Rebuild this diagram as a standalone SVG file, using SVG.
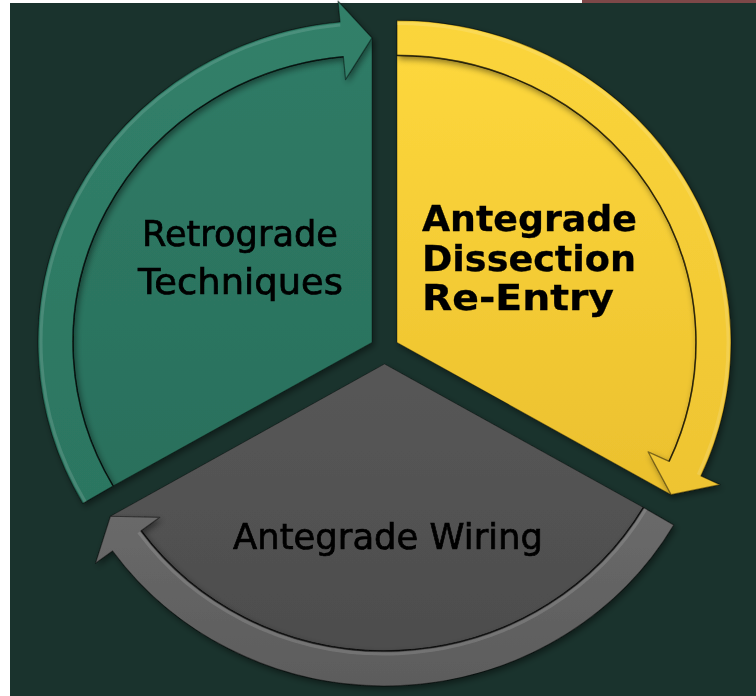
<svg xmlns="http://www.w3.org/2000/svg" width="756" height="696" viewBox="0 0 756 696">
  <style>
    .lbl { font-family: "DejaVu Sans", "Liberation Sans", sans-serif; font-size: 36px; fill: #000; stroke: #000; stroke-width: 0.7; }
    .bold { font-weight: bold; stroke-width: 0.3; }
    .pie { stroke: rgba(0,0,0,0.35); stroke-width: 1; }
    .band { stroke: rgba(0,0,0,0.45); stroke-width: 1.2; stroke-linejoin: round; }
    .inner { fill: none; stroke: rgba(0,0,0,0.55); stroke-width: 1.6; }
    .hl { fill: none; stroke: rgba(255,255,255,0.13); stroke-width: 3; }
  </style>
  <defs>
    <filter id="sh" x="-10%" y="-10%" width="120%" height="120%">
      <feDropShadow dx="2" dy="3" stdDeviation="3" flood-color="#000" flood-opacity="0.45"/>
    </filter>
    <linearGradient id="gGreen" x1="0" y1="0" x2="0" y2="1">
      <stop offset="0" stop-color="#2f7b66"/>
      <stop offset="1" stop-color="#2a705c"/>
    </linearGradient>
    <linearGradient id="gGreenBand" x1="0" y1="0" x2="0" y2="1">
      <stop offset="0" stop-color="#318069"/>
      <stop offset="1" stop-color="#2c7661"/>
    </linearGradient>
    <linearGradient id="gYellow" x1="0" y1="0" x2="0" y2="1">
      <stop offset="0" stop-color="#fdd73c"/>
      <stop offset="1" stop-color="#ebc02e"/>
    </linearGradient>
    <linearGradient id="gYellowBand" x1="0" y1="0" x2="0" y2="1">
      <stop offset="0" stop-color="#fbd53b"/>
      <stop offset="1" stop-color="#eec432"/>
    </linearGradient>
    <linearGradient id="gGray" x1="0" y1="0" x2="0" y2="1">
      <stop offset="0" stop-color="#575757"/>
      <stop offset="1" stop-color="#4d4d4d"/>
    </linearGradient>
    <linearGradient id="gGrayBand" x1="0" y1="0" x2="0" y2="1">
      <stop offset="0" stop-color="#6a6a6a"/>
      <stop offset="1" stop-color="#5c5c5c"/>
    </linearGradient>
  </defs>

  <rect x="0" y="0" width="756" height="696" fill="#ffffff"/>
  <rect x="10" y="3" width="746" height="693" fill="#1a332d"/>
  <rect x="582" y="0" width="174" height="3" fill="#7d4848"/>

  <g id="node-retrograde" filter="url(#sh)">
    <path class="pie" fill="url(#gGreen)" d="M372,342.4 L113.06,485.9 A299 287 0 0 1 343.34,56.72 L372,37.9 Z"/>
    <text class="lbl" x="240" y="246" text-anchor="middle" textLength="196" lengthAdjust="spacingAndGlyphs">Retrograde</text>
    <text class="lbl" x="240.5" y="294" text-anchor="middle" textLength="205" lengthAdjust="spacingAndGlyphs">Techniques</text>
  </g>

  <g id="node-ader" filter="url(#sh)">
    <path class="pie" fill="url(#gYellow)" d="M397,342.4 L397,55.4 A299 287 0 0 1 669.08,461.42 L671.1,494.65 Z"/>
    <text class="lbl bold" x="422" y="231" textLength="215" lengthAdjust="spacingAndGlyphs">Antegrade</text>
    <text class="lbl bold" x="422" y="271" textLength="214" lengthAdjust="spacingAndGlyphs">Dissection</text>
    <text class="lbl bold" x="422" y="310" textLength="192" lengthAdjust="spacingAndGlyphs">Re-Entry</text>
  </g>

  <g id="node-wiring" filter="url(#sh)">
    <path class="pie" fill="url(#gGray)" d="M384.5,364 L643.44,507.5 A299 287 0 0 1 141.08,530.66 L110.4,516.25 Z"/>
    <text class="lbl" x="388" y="549" text-anchor="middle" textLength="310" lengthAdjust="spacingAndGlyphs">Antegrade Wiring</text>
  </g>

  <g id="connectors">
    <g id="arrow-green" filter="url(#sh)">
      <path class="band" fill="url(#gGreenBand)" d="M82.75,503.4 A334 322 0 0 1 339.99,21.88 L337.97,0.98 L372,37.9 L345.55,79.61 L343.34,56.72 A299 287 0 0 0 113.06,485.9 Z"/>
      <path class="hl" d="M85.4,501.9 A331 319 0 0 1 340.3,24.9"/>
      <path class="inner" d="M113.06,485.9 A299 287 0 0 1 343.34,56.72"/>
    </g>
    <g id="arrow-yellow" filter="url(#sh)">
      <path class="band" fill="url(#gYellowBand)" d="M397,20.4 A334 322 0 0 1 700.93,475.93 L720.04,484.64 L671.1,494.65 L648.15,451.88 L669.08,461.42 A299 287 0 0 0 397,55.4 Z"/>
      <path class="hl" d="M397,23.4 A331 319 0 0 1 698.2,474.7"/>
      <path class="inner" d="M397,55.4 A299 287 0 0 1 669.08,461.42"/>
    </g>
    <g id="arrow-gray" filter="url(#sh)">
      <path class="band" fill="url(#gGrayBand)" d="M673.75,525 A334 322 0 0 1 112.58,550.99 L95.49,563.18 L110.4,516.25 L159.8,517.3 L141.08,530.66 A299 287 0 0 0 643.44,507.5 Z"/>
      <path class="hl" d="M646.0,509.0 A302 290 0 0 1 138.6,532.4"/>
      <path class="inner" d="M643.44,507.5 A299 287 0 0 1 141.08,530.66"/>
    </g>
  </g>
</svg>
